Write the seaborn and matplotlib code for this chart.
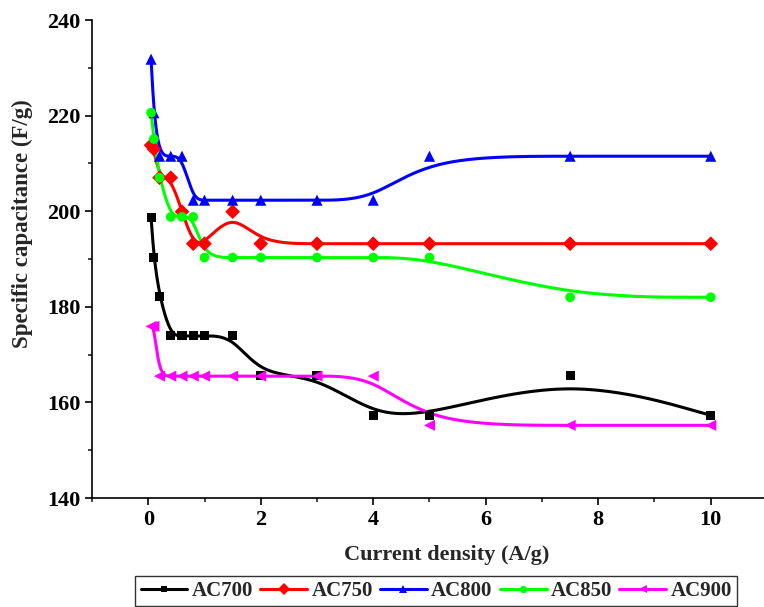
import numpy as np
import pandas as pd
import matplotlib
matplotlib.use("Agg")
import matplotlib.pyplot as plt
from matplotlib.lines import Line2D
from matplotlib.ticker import MultipleLocator
import seaborn as sns

# ---- data ----
current_density = [0.05, 0.1, 0.2, 0.4, 0.6, 0.8, 1, 1.5, 2, 3, 4, 5, 7.5, 10]
ac700 = [198.7, 190.4, 182.1, 173.9, 173.9, 173.9, 173.9, 173.9, 165.6, 165.6, 157.3, 157.3, 165.6, 157.3]
ac750 = [213.8, 213.0, 207.0, 207.0, 199.9, 193.2, 193.2, 199.9, 193.2, 193.2, 193.2, 193.2, 193.2, 193.2]
ac800 = [231.8, 220.6, 211.5, 211.5, 211.5, 202.3, 202.3, 202.3, 202.3, 202.3, 202.3, 211.5, 211.5, 211.5]
ac850 = [220.6, 215.1, 207.0, 198.8, 198.8, 198.8, 190.3, 190.3, 190.3, 190.3, 190.3, 190.3, 182.0, 182.0]
ac900 = [175.9, 175.9, 165.5, 165.5, 165.5, 165.5, 165.5, 165.5, 165.5, 165.5, 165.5, 155.2, 155.2, 155.2]
series_names = ["AC700", "AC750", "AC800", "AC850", "AC900"]
series_values = [ac700, ac750, ac800, ac850, ac900]

colors = ["#000000", "#FF0000", "#0000FF", "#00FF00", "#FF00FF"]
markers = ["s", "D", "^", "o", "<"]
msizes = [6.5, 7.5, 8.0, 7.0, 8.0]


def bspline(xs, ys, n=40):
    P = np.column_stack([xs, ys]).astype(float)
    P = np.vstack([P[0], P[0], P, P[-1], P[-1]])
    t = np.linspace(0, 1, n, endpoint=False)
    b0 = (1 - t) ** 3 / 6
    b1 = (3 * t**3 - 6 * t**2 + 4) / 6
    b2 = (-3 * t**3 + 3 * t**2 + 3 * t + 1) / 6
    b3 = t**3 / 6
    out = []
    for i in range(len(P) - 3):
        seg = (np.outer(b0, P[i]) + np.outer(b1, P[i + 1])
               + np.outer(b2, P[i + 2]) + np.outer(b3, P[i + 3]))
        out.append(seg)
    out.append(P[-1][None, :])
    c = np.vstack(out)
    return c[:, 0], c[:, 1]


sns.set_style("ticks")
plt.rcParams["font.family"] = ["Liberation Serif", "DejaVu Serif"]
plt.rcParams["font.weight"] = "bold"

fig = plt.figure(figsize=(7.64, 6.07), dpi=100)
ax = fig.add_axes([92 / 764, 109 / 607, (767 - 92) / 764, (498 - 20) / 607])

handles = []
for name, vals, col, mk, ms in zip(series_names, series_values, colors, markers, msizes):
    cx, cy = bspline(current_density, vals)
    sns.lineplot(x=cx, y=cy, color=col, lw=2.2, sort=False, estimator=None, ax=ax)
    sns.scatterplot(x=current_density, y=vals, color=col, marker=mk, s=ms**2,
                    edgecolor="none", linewidth=0, ax=ax, zorder=3)
    handles.append(Line2D([], [], color=col, lw=2.2, marker=mk, markersize=ms * 0.75,
                          markeredgewidth=0, label=name))

ax.set_xlim(-1, 11)
ax.set_ylim(140, 240)
ax.xaxis.set_major_locator(MultipleLocator(2))
ax.xaxis.set_minor_locator(MultipleLocator(1))
ax.yaxis.set_major_locator(MultipleLocator(20))
ax.yaxis.set_minor_locator(MultipleLocator(10))
ax.tick_params(axis="both", which="major", direction="out", length=5, width=1.2,
               labelsize=16, colors="black")
ax.tick_params(axis="both", which="minor", direction="out", length=3, width=1.2)
for lab in ax.get_xticklabels() + ax.get_yticklabels():
    lab.set_fontweight("bold")
sns.despine(ax=ax)
for s in ["left", "bottom"]:
    ax.spines[s].set_linewidth(1.2)
    ax.spines[s].set_color("black")

ax.set_xlabel("Current density (A/g)", fontsize=16, fontweight="bold")
ax.set_ylabel("Specific capacitance (F/g)", fontsize=16.5, fontweight="bold")
ax.xaxis.set_label_coords(0.525, -0.098)
ax.yaxis.set_label_coords(-0.087, 0.573)

leg = fig.legend(handles=handles, loc="center", bbox_to_anchor=(0.571, 0.026), ncol=5,
                 frameon=True, fancybox=False, edgecolor="black", fontsize=15,
                 handlelength=2.25, columnspacing=0.35, handletextpad=0.2,
                 borderpad=0.25, borderaxespad=0)
leg.get_frame().set_linewidth(1.0)
for t in leg.get_texts():
    t.set_fontweight("bold")

fig.savefig("out.png", dpi=100)
